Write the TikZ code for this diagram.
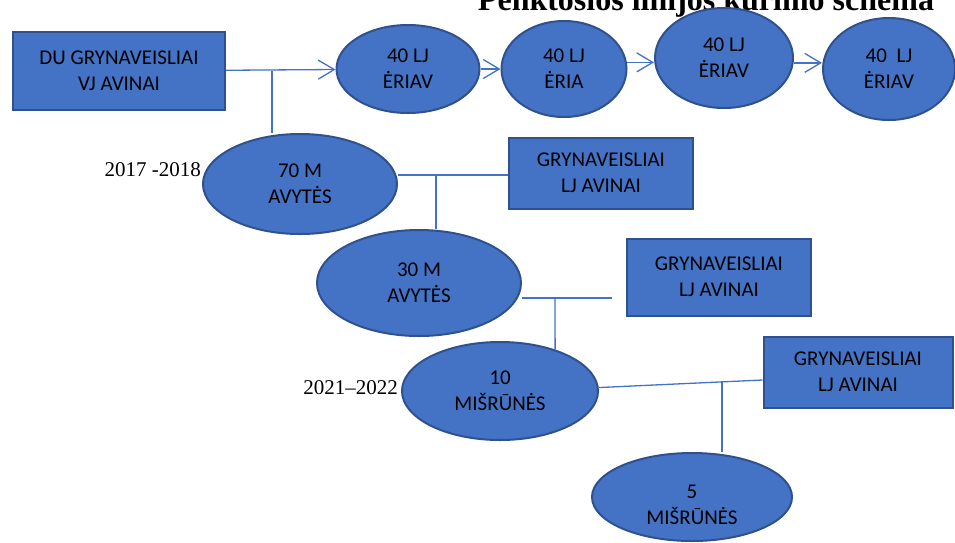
\documentclass[tikz,border=0pt]{standalone}
\usepackage{fontspec}
\setmainfont{Liberation Serif}
\newfontfamily\boxfont{Carlito}
\usetikzlibrary{arrows.meta,shapes.geometric}
\definecolor{officeblue}{HTML}{4472C4}
\definecolor{officeedge}{HTML}{2F528F}
\begin{document}
\begin{tikzpicture}[x=1pt,y=-1pt,
    box/.style={draw=officeedge,line width=2pt,fill=officeblue,align=center,
      font=\boxfont\fontsize{21}{26}\selectfont,inner sep=0pt},
    oval/.style={box,ellipse},
    link/.style={draw=officeblue,line width=1.3pt},
    arr/.style={link,-{Straight Barb[length=16pt,width=19pt,line width=1.3pt]}},
    year/.style={font=\fontsize{21}{25}\selectfont,inner sep=0pt}]
    \useasboundingbox (0,0) rectangle (955,542);
    \node[font=\bfseries\fontsize{32}{36}\selectfont,anchor=base,inner sep=0pt] (title) at (706,10) {Penktosios linijos kūrimo schema};
    \node[box,minimum width=212pt,minimum height=78pt] (A) at (119,71) {DU GRYNAVEISLIAI\\VJ AVINAI};
    \node[oval,minimum width=143pt,minimum height=88pt] (E1) at (408,69) {40 LJ\\ĖRIAV};
    \node[oval,minimum width=125pt,minimum height=96pt] (E2) at (564,69) {40 LJ\\ĖRIA};
    \node[oval,minimum width=138pt,minimum height=100pt] (E3) at (724,58) {40 LJ\\ĖRIAV};
    \node[oval,minimum width=132pt,minimum height=102pt] (E4) at (889,69) {40\ \ LJ\\ĖRIAV};
    \node[oval,minimum width=194pt,minimum height=100pt] (E5) at (300,184) {70 M\\AVYTĖS};
    \node[year,anchor=east] (y1) at (201,170) {2017 -2018};
    \node[box,minimum width=184pt,minimum height=71pt] (B1) at (601,173) {GRYNAVEISLIAI\\LJ AVINAI};
    \node[oval,minimum width=204pt,minimum height=106pt] (E6) at (419,283) {30 M\\AVYTĖS};
    \node[box,minimum width=184pt,minimum height=77pt] (B2) at (719,277) {GRYNAVEISLIAI\\LJ AVINAI};
    \node[oval,minimum width=196pt,minimum height=98pt] (E7) at (500,391) {10\\MIŠRŪNĖS};
    \node[year,anchor=east] (y2) at (398,388) {2021–2022};
    \node[box,minimum width=189pt,minimum height=71pt] (B3) at (858,372) {GRYNAVEISLIAI\\LJ AVINAI};
    \node[oval,minimum width=200pt,minimum height=88pt] (E8) at (692,497) {\rule{0pt}{30pt}5\\MIŠRŪNĖS};
    \coordinate (j1) at (272,71);
    \coordinate (j2) at (436,175);
    \coordinate (e2) at (612,298);
    \coordinate (j3) at (555,298);
    \coordinate (j4) at (722,381);
    \draw[arr] (A) -- (E1);
    \draw[arr] (E1) -- (E2);
    \draw[arr] (E2.6) -- (E2.6 -| E3.west);
    \draw[arr] (E3.-4) -- (E3.-4 -| E4.west);
    \draw[link] (j1) -- (j1 |- E5.north);
    \draw[link] (E5.east |- j2) -- (B1.west |- j2);
    \draw[link] (j2) -- (j2 |- E6.north);
    \draw[link] (E6.east |- e2) -- (e2);
    \draw[link] (j3) -- (E7.37);
    \draw[link] (E7.2) -- ([yshift=-8pt]B3.west);
    \draw[link] (j4) -- (j4 |- E8.north);
\end{tikzpicture}
\end{document}
